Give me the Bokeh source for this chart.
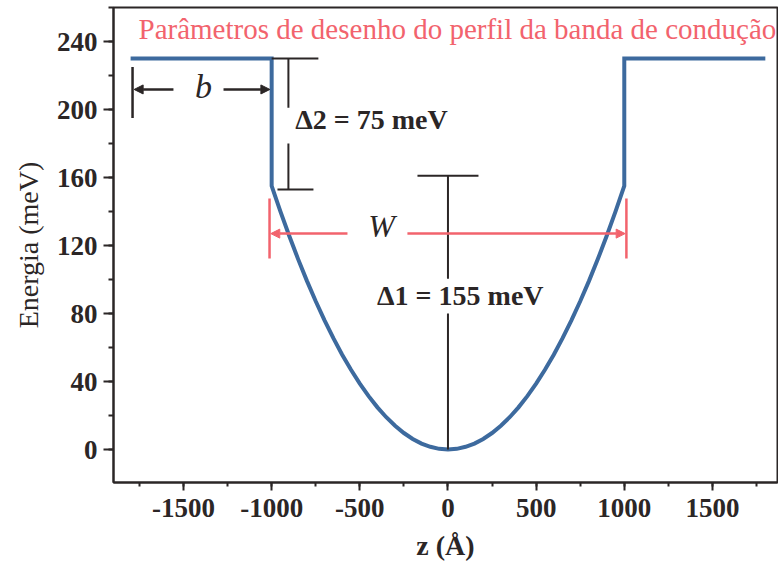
from bokeh.plotting import figure
from bokeh.models import (Range1d, SingleIntervalTicker, Label, Arrow, NormalHead)
from bokeh.embed import file_html
from bokeh.resources import INLINE

# Conduction band profile: barrier plateaus and parabolic well
z_barrier_left = [-1800, -1000]
E_barrier_left = [230, 230]
z_well = [-1000, -950, -900, -850, -800, -750, -700, -650, -600, -550, -500,
          -450, -400, -350, -300, -250, -200, -150, -100, -50, 0,
          50, 100, 150, 200, 250, 300, 350, 400, 450, 500,
          550, 600, 650, 700, 750, 800, 850, 900, 950, 1000]
E_well = [155.0, 139.9, 125.6, 112.0, 99.2, 87.2, 76.0, 65.5, 55.8, 46.9, 38.8,
          31.4, 24.8, 19.0, 14.0, 9.7, 6.2, 3.5, 1.6, 0.4, 0.0,
          0.4, 1.6, 3.5, 6.2, 9.7, 14.0, 19.0, 24.8, 31.4, 38.8,
          46.9, 55.8, 65.5, 76.0, 87.2, 99.2, 112.0, 125.6, 139.9, 155.0]
z_barrier_right = [1000, 1800]
E_barrier_right = [230, 230]

# Parameters labelled on the drawing
delta1 = 155   # meV
delta2 = 75    # meV

x_ticks = [-1500, -1000, -500, 0, 500, 1000, 1500]
x_tick_labels = ["-1500", "-1000", "-500", "0", "500", "1000", "1500"]
y_ticks = [0, 40, 80, 120, 160, 200, 240]

z_all = z_barrier_left + z_well + z_barrier_right
E_all = E_barrier_left + E_well + E_barrier_right

BLUE = "#3d6a9e"
RED = "#f2636d"
INK = "#2b2626"
SERIF = "Liberation Serif"

p = figure(width=778, height=572, output_backend="svg", toolbar_location=None,
           x_range=Range1d(-1897, 1869), y_range=Range1d(-19.4, 260),
           min_border_left=113, min_border_right=1, min_border_top=7,
           min_border_bottom=90)
p.xgrid.visible = False
p.ygrid.visible = False
p.outline_line_color = INK
p.outline_line_width = 2
p.background_fill_color = "white"
p.border_fill_color = "white"

# axes
for ax in (p.xaxis[0], p.yaxis[0]):
    ax.axis_line_color = INK
    ax.axis_line_width = 2
    ax.major_tick_line_color = INK
    ax.minor_tick_line_color = INK
    ax.major_tick_line_width = 2
    ax.minor_tick_line_width = 2
    ax.major_tick_in = 0
    ax.minor_tick_in = 0
    ax.major_label_text_font = SERIF
    ax.major_label_text_font_style = "bold"
    ax.major_label_text_font_size = "27px"
    ax.major_label_text_color = INK
    ax.axis_label_text_font = SERIF
    ax.axis_label_text_font_size = "28px"
    ax.axis_label_text_color = INK

p.xaxis.ticker = SingleIntervalTicker(interval=500, num_minor_ticks=2)
p.xaxis.major_label_overrides = {t: s for t, s in zip(x_ticks, x_tick_labels)}
p.xaxis.major_tick_out = 8
p.xaxis.minor_tick_out = 4
p.xaxis.major_label_standoff = 8
p.xaxis.axis_label = "z (Å)"
p.xaxis.axis_label_text_font_style = "bold"
p.xaxis.axis_label_standoff = 10

p.yaxis.ticker = SingleIntervalTicker(interval=40, num_minor_ticks=2)
p.yaxis.major_tick_out = 10
p.yaxis.minor_tick_out = 5
p.yaxis.major_label_standoff = 6
p.yaxis.axis_label = "Energia (meV)"
p.yaxis.axis_label_text_font_style = "normal"
p.yaxis.axis_label_standoff = 10

# band profile
p.line(z_all, E_all, line_color=BLUE, line_width=4, line_join="miter")

# heading inside the frame
p.add_layout(Label(x=-1755, y=247.3, text="Parâmetros de desenho do perfil da banda de condução",
                   text_font=SERIF, text_font_size="29px", text_color=RED,
                   text_baseline="alphabetic", text_align="left"))

# b: barrier width marker
p.segment(x0=[-1789], y0=[195], x1=[-1789], y1=[225], line_color=INK, line_width=2.5)
p.add_layout(Arrow(end=NormalHead(size=9, fill_color=INK, line_color=INK),
                   x_start=-1557, y_start=211.8, x_end=-1780, y_end=211.8,
                   line_color=INK, line_width=2.5))
p.add_layout(Arrow(end=NormalHead(size=9, fill_color=INK, line_color=INK),
                   x_start=-1273, y_start=211.8, x_end=-1010, y_end=211.8,
                   line_color=INK, line_width=2.5))
p.add_layout(Label(x=-1387, y=213.5, text="b", text_font=SERIF, text_font_style="italic",
                   text_font_size="34px", text_color=INK, text_align="center",
                   text_baseline="alphabetic"))

# Δ2 marker
top2 = 230
bot2 = top2 - delta2
p.segment(x0=[-1000, -967, -905, -905], y0=[top2, bot2 - 2, top2, 180],
          x1=[-735, -763, -905, -905], y1=[top2, bot2 - 2, 201, bot2 - 2],
          line_color=INK, line_width=2)
p.add_layout(Label(x=-866, y=194, text=f"Δ2 = {delta2} meV", text_font=SERIF,
                   text_font_style="bold", text_font_size="28px", text_color=INK,
                   text_align="left", text_baseline="alphabetic"))

# Δ1 marker
top1 = 161
p.segment(x0=[-173, 0, 0], y0=[top1, top1, 80], x1=[173, 0, 0], y1=[top1, 100.5, 0],
          line_color=INK, line_width=2)
p.add_layout(Label(x=70, y=90.5, text=f"Δ1 = {delta1} meV", text_font=SERIF,
                   text_font_style="bold", text_font_size="28px", text_color=INK,
                   text_align="center", text_baseline="alphabetic"))

# W: well width marker
p.segment(x0=[-1012, 1012], y0=[112.4, 112.4], x1=[-1012, 1012], y1=[147.6, 147.6],
          line_color=RED, line_width=2.5)
p.add_layout(Arrow(end=NormalHead(size=9, fill_color=RED, line_color=RED),
                   x_start=-570, y_start=127, x_end=-1005, y_end=127,
                   line_color=RED, line_width=2.5))
p.add_layout(Arrow(end=NormalHead(size=9, fill_color=RED, line_color=RED),
                   x_start=-230, y_start=127, x_end=1005, y_end=127,
                   line_color=RED, line_width=2.5))
p.add_layout(Label(x=-377, y=131.5, text="W", text_font=SERIF, text_font_style="italic",
                   text_font_size="32px", text_color=INK, text_align="center",
                   text_baseline="alphabetic"))

open("out.html", "w").write(file_html(p, INLINE))
